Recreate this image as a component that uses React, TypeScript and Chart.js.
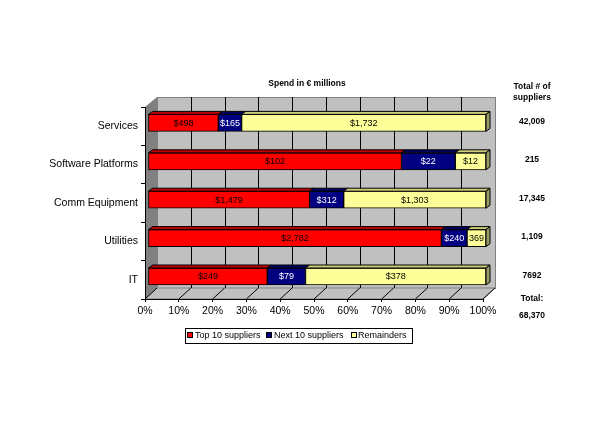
import React, { useEffect, useRef } from 'react';
import { Chart, registerables } from 'chart.js';

Chart.register(...registerables);

const categories = ['Services', 'Software Platforms', 'Comm Equipment', 'Utilities', 'IT'];
const top10Pct = [20.8, 75.0, 47.8, 86.8, 35.3];
const next10Pct = [6.9, 15.9, 10.1, 7.6, 11.3];
const remainderPct = [72.3, 9.1, 42.1, 5.6, 53.4];
const top10Labels = ['$498', '$102', '$1,479', '$2,782', '$249'];
const next10Labels = ['$165', '$22', '$312', '$240', '$79'];
const remainderLabels = ['$1,732', '$12', '$1,303', '369', '$378'];
const supplierCounts = ['42,009', '215', '17,345', '1,109', '7692'];
const totalSuppliers = '68,370';
const seriesNames = ['Top 10 suppliers', 'Next 10 suppliers', 'Remainders'];
const xTicks = [0, 10, 20, 30, 40, 50, 60, 70, 80, 90, 100];

const FONT = "'Liberation Sans', Arial, sans-serif";
const frontColors = ['#FF0000', '#000080', '#FFFF99'];
const topColors = ['#C00000', '#000060', '#CCCC7A'];
const sideColors = ['#A00000', '#000050', '#999966'];
const labelColors = ['#000000', '#FFFFFF', '#000000'];
const labelSets = [top10Labels, next10Labels, remainderLabels];

// 3D offsets
const WALL_DX = 12;
const WALL_DY_TOP = -10;
const WALL_DY_BOT = -11;
const BAR_SHIFT_X = 3;
const BAR_SHIFT_Y = -3.3;
const BAR_DX = 4;
const BAR_DY = -3;

const wallPlugin = {
  id: 'wall3d',
  beforeDraw(chart: any) {
    const { ctx, chartArea } = chart;
    const { left, right, top, bottom } = chartArea;
    const xs = chart.scales.x;
    ctx.save();
    ctx.fillStyle = '#FFFFFF';
    ctx.fillRect(0, 0, chart.width, chart.height);
    const bl = left + WALL_DX, br = right + WALL_DX;
    const bt = top + WALL_DY_TOP, bb = bottom + WALL_DY_BOT;
    // back wall
    ctx.fillStyle = '#C0C0C0';
    ctx.fillRect(bl, bt, br - bl, bb - bt);
    ctx.strokeStyle = '#808080';
    ctx.lineWidth = 1;
    ctx.strokeRect(bl + 0.5, bt + 0.5, br - bl, bb - bt);
    // left wall
    ctx.fillStyle = '#808080';
    ctx.beginPath();
    ctx.moveTo(left, top);
    ctx.lineTo(bl, bt);
    ctx.lineTo(bl, bb);
    ctx.lineTo(left, bottom);
    ctx.closePath();
    ctx.fill();
    // floor
    ctx.fillStyle = '#C0C0C0';
    ctx.beginPath();
    ctx.moveTo(left, bottom);
    ctx.lineTo(right, bottom);
    ctx.lineTo(br, bb);
    ctx.lineTo(bl, bb);
    ctx.closePath();
    ctx.fill();
    ctx.strokeStyle = '#808080';
    ctx.stroke();
    // gridlines
    ctx.strokeStyle = '#000000';
    xTicks.forEach((v, i) => {
      const xf = xs.getPixelForValue(v);
      const xb = xf + WALL_DX;
      ctx.beginPath();
      ctx.moveTo(xf, bottom);
      ctx.lineTo(xb, bb);
      if (i > 0 && i < xTicks.length - 1) {
        ctx.moveTo(Math.round(xb) + 0.5, bb);
        ctx.lineTo(Math.round(xb) + 0.5, bt);
      }
      ctx.stroke();
    });
    ctx.restore();
  },
  beforeDatasetsDraw(chart: any) {
    chart.ctx.save();
    chart.ctx.translate(BAR_SHIFT_X, BAR_SHIFT_Y);
  },
  afterDatasetsDraw(chart: any) {
    const { ctx } = chart;
    const n = chart.data.datasets.length;
    ctx.lineWidth = 1;
    ctx.strokeStyle = '#000000';
    for (let d = 0; d < n; d++) {
      const meta = chart.getDatasetMeta(d);
      meta.data.forEach((el: any) => {
        const x0 = Math.min(el.base, el.x);
        const x1 = Math.max(el.base, el.x);
        const t = el.y - el.height / 2;
        const b = el.y + el.height / 2;
        ctx.fillStyle = topColors[d];
        ctx.beginPath();
        ctx.moveTo(x0, t);
        ctx.lineTo(x0 + BAR_DX, t + BAR_DY);
        ctx.lineTo(x1 + BAR_DX, t + BAR_DY);
        ctx.lineTo(x1, t);
        ctx.closePath();
        ctx.fill();
        ctx.stroke();
        if (d === n - 1) {
          ctx.fillStyle = sideColors[d];
          ctx.beginPath();
          ctx.moveTo(x1, t);
          ctx.lineTo(x1 + BAR_DX, t + BAR_DY);
          ctx.lineTo(x1 + BAR_DX, b + BAR_DY);
          ctx.lineTo(x1, b);
          ctx.closePath();
          ctx.fill();
          ctx.stroke();
        }
      });
    }
    ctx.font = `9px ${FONT}`;
    ctx.textAlign = 'center';
    ctx.textBaseline = 'middle';
    for (let d = 0; d < n; d++) {
      const meta = chart.getDatasetMeta(d);
      meta.data.forEach((el: any, i: number) => {
        const cx = (el.base + el.x) / 2;
        ctx.fillStyle = labelColors[d];
        ctx.fillText(labelSets[d][i], cx, el.y + 0.5);
      });
    }
    ctx.restore();
  },
  afterDraw(chart: any) {
    const { ctx } = chart;
    const ys = chart.scales.y;
    ctx.save();
    ctx.fillStyle = '#000000';
    ctx.textAlign = 'center';
    ctx.textBaseline = 'middle';
    ctx.font = `bold 8.5px ${FONT}`;
    ctx.fillText('Spend in € millions', 307, 84);
    ctx.fillText('Total # of', 532, 87);
    ctx.fillText('suppliers', 532, 98);
    supplierCounts.forEach((s, i) => {
      ctx.fillText(s, 532, ys.getPixelForValue(i) - 4.5);
    });
    ctx.fillText('Total:', 532, 299);
    ctx.fillText(totalSuppliers, 532, 316);
    // legend
    ctx.strokeStyle = '#000000';
    ctx.lineWidth = 1;
    ctx.strokeRect(185.5, 328.5, 227, 15);
    const sq = [188, 267, 352];
    const tx = [195, 274, 358];
    ctx.font = `9px ${FONT}`;
    ctx.textAlign = 'left';
    seriesNames.forEach((name, i) => {
      ctx.fillStyle = frontColors[i];
      ctx.fillRect(sq[i], 333, 4, 4);
      ctx.strokeRect(sq[i] - 0.5, 332.5, 5, 5);
      ctx.fillStyle = '#000000';
      ctx.fillText(name, tx[i], 335.5);
    });
    ctx.restore();
  },
};

export default function App() {
  const ref = useRef<HTMLCanvasElement>(null);
  useEffect(() => {
    if (!ref.current) return;
    const chart = new Chart(ref.current, {
      type: 'bar',
      data: {
        labels: categories,
        datasets: [top10Pct, next10Pct, remainderPct].map((vals, i) => ({
          label: seriesNames[i],
          data: vals,
          backgroundColor: frontColors[i],
          borderColor: '#000000',
          borderWidth: 1,
          borderSkipped: false,
          barThickness: 17,
        })),
      },
      options: {
        indexAxis: 'y',
        animation: false,
        responsive: false,
        maintainAspectRatio: false,
        layout: { padding: { left: 0, top: 107, right: 133, bottom: 0 } },
        plugins: {
          legend: { display: false },
          tooltip: { enabled: false },
          title: { display: false },
        },
        scales: {
          x: {
            stacked: true,
            min: 0,
            max: 100,
            afterFit: (s: any) => { s.height = 129; },
            afterBuildTicks: (s: any) => { s.ticks = xTicks.map((v) => ({ value: v })); },
            ticks: {
              autoSkip: false,
              maxRotation: 0,
              padding: 3,
              color: '#000000',
              font: { family: FONT, size: 10.5 },
              callback: (v: any) => `${v}%`,
            },
            grid: { display: true, drawOnChartArea: false, drawTicks: true, tickLength: 3, color: '#000000' },
            border: { display: true, color: '#000000' },
          },
          y: {
            stacked: true,
            afterFit: (s: any) => { s.width = 145; },
            ticks: {
              padding: 3,
              color: '#000000',
              font: { family: FONT, size: 10.5 },
            },
            grid: { display: true, drawOnChartArea: false, drawTicks: true, tickLength: 4, color: '#000000', offset: true },
            border: { display: true, color: '#000000' },
          },
        },
      },
      plugins: [wallPlugin],
    });
    return () => chart.destroy();
  }, []);
  return (
    <div style={{ position: 'fixed', left: 0, top: 0, width: 616, height: 428, background: '#fff' }}>
      <canvas ref={ref} width={616} height={428} style={{ width: 616, height: 428, display: 'block' }} />
    </div>
  );
}
